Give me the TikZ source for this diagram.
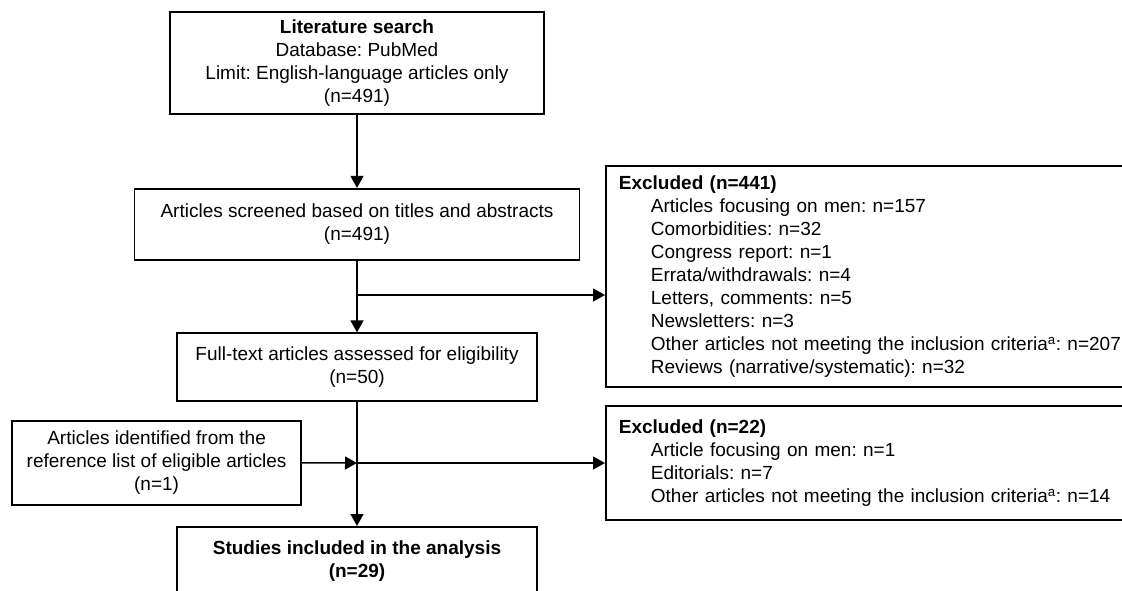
\documentclass[tikz,border=0pt]{standalone}
\usepackage{fontspec}
\setmainfont{Liberation Sans}
\usetikzlibrary{arrows.meta}
\frenchspacing
\begin{document}
\begin{tikzpicture}[x=1pt,y=-1pt,
  box/.style={draw, line width=1.8pt, inner sep=0pt, font=\fontsize{19}{23}\selectfont\frenchspacing},
  cbox/.style={box, align=center},
  lbox/.style={box, align=left, inner xsep=13pt, inner ysep=0pt, text width=520pt, anchor=west},
  arr/.style={line width=1.5pt, -{Triangle[length=12pt,width=13pt]}}]
\useasboundingbox (0,0) rectangle (1122,591);
\clip (0,0) rectangle (1122,591);

\node[cbox, minimum width=374pt, minimum height=102pt] (lit) at (357,63)
  {\textbf{Literature search}\\Database: PubMed\\Limit: English-language articles only\\(n=491)};
\node[cbox, minimum width=445pt, minimum height=71pt] (scr) at (357,224.3)
  {Articles screened based on titles and abstracts\\(n=491)};
\node[cbox, minimum width=360pt, minimum height=67.4pt] (ft) at (357,367)
  {Full-text articles assessed for eligibility\\(n=50)};
\node[cbox, minimum width=289.4pt, minimum height=84.3pt] (ref) at (156.6,462.9)
  {Articles identified from the\\reference list of eligible articles\\(n=1)};
\node[cbox, minimum width=360pt, minimum height=88pt, anchor=north] (stud) at (357,526)
  {\textbf{Studies included in the analysis}\\\textbf{(n=29)}\\\mbox{}};

\node[lbox, minimum height=221.3pt] (ex1) at (605,276.7)
  {\textbf{Excluded (n=441)}\\
   \hspace*{32pt}Articles focusing on men: n=157\\
   \hspace*{32pt}Comorbidities: n=32\\
   \hspace*{32pt}Congress report: n=1\\
   \hspace*{32pt}Errata/withdrawals: n=4\\
   \hspace*{32pt}Letters, comments: n=5\\
   \hspace*{32pt}Newsletters: n=3\\
   \hspace*{32pt}Other articles not meeting the inclusion criteria\textsuperscript{a}: n=207\\
   \hspace*{32pt}Reviews (narrative/systematic): n=32};
\node[lbox, minimum height=114pt] (ex2) at (605,463)
  {\textbf{Excluded (n=22)}\\
   \hspace*{32pt}Article focusing on men: n=1\\
   \hspace*{32pt}Editorials: n=7\\
   \hspace*{32pt}Other articles not meeting the inclusion criteria\textsuperscript{a}: n=14};

\coordinate (b1) at (357,295);
\coordinate (j2) at (357,463);

\draw[arr] (lit.south) -- (scr.north);
\draw[arr] (scr.south) -- (ft.north);
\draw[arr] (b1) -- (b1 -| ex1.west);
\draw[arr] (ft.south) -- (stud.north);
\draw[arr] (ref.east) -- (j2);
\draw[arr] (j2) -- (j2 -| ex2.west);
\end{tikzpicture}
\end{document}
